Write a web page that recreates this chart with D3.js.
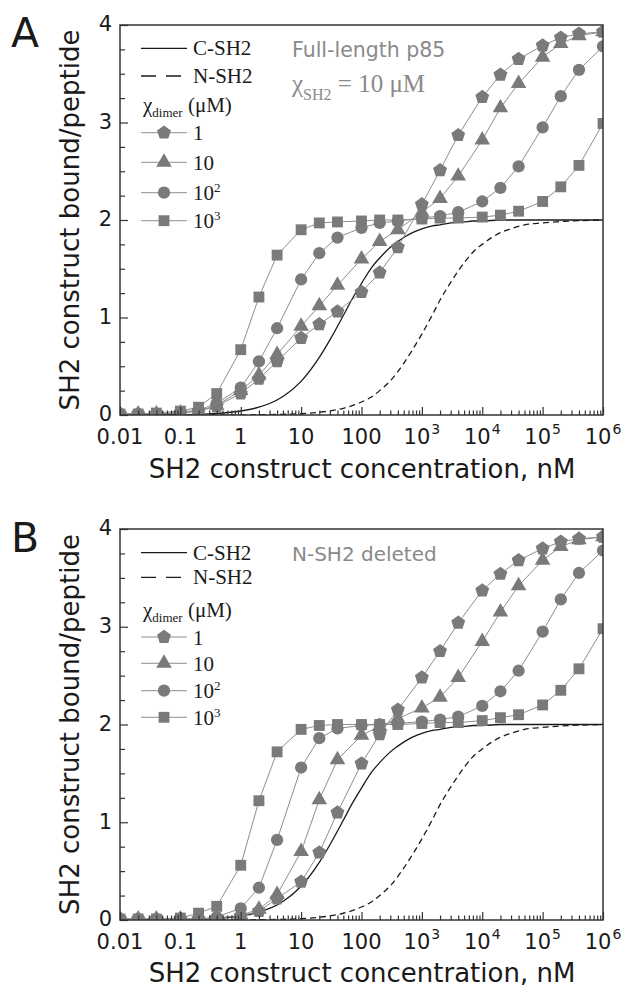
<!DOCTYPE html>
<html>
<head>
<meta charset="utf-8">
<script src="https://cdn.jsdelivr.net/npm/d3@7"></script>
<style>
body{margin:0;background:#fff;}
svg{display:block;}
</style>
</head>
<body>
<div id="chart"></div>
<script>
// concentrations (nM) of the simulated points
var conc = [0.01,0.02,0.04,0.1,0.2,0.4,1,2,4,10,20,40,100,200,400,1e3,2e3,4e3,1e4,2e4,4e4,1e5,2e5,4e5,1e6];

// panel A : full-length p85
var fullPent = [0.01,0.01,0.01,0.02,0.04,0.09,0.22,0.37,0.55,0.79,0.93,1.06,1.26,1.46,1.72,2.16,2.51,2.87,3.26,3.49,3.65,3.79,3.87,3.91,3.93];
var fullTri  = [0.01,0.01,0.01,0.02,0.04,0.10,0.25,0.41,0.62,0.91,1.12,1.33,1.60,1.78,1.90,2.08,2.22,2.45,2.82,3.15,3.40,3.67,3.81,3.89,3.93];
var fullCirc = [0.01,0.01,0.01,0.03,0.05,0.12,0.28,0.55,0.89,1.39,1.66,1.82,1.92,1.97,1.99,2.02,2.04,2.08,2.19,2.33,2.55,2.95,3.27,3.54,3.78];
var fullSq   = [0.01,0.01,0.02,0.04,0.08,0.22,0.67,1.21,1.64,1.90,1.97,1.98,1.99,2.00,2.00,2.01,2.02,2.02,2.03,2.05,2.09,2.19,2.34,2.56,2.99];

// panel B : N-SH2 deleted
var delPent = [0.01,0.01,0.01,0.01,0.01,0.02,0.04,0.09,0.22,0.39,0.69,1.10,1.60,1.90,2.15,2.48,2.75,3.04,3.37,3.54,3.68,3.80,3.87,3.90,3.92];
var delTri  = [0.01,0.01,0.01,0.01,0.01,0.02,0.05,0.11,0.26,0.70,1.23,1.64,1.89,1.98,2.06,2.17,2.28,2.48,2.85,3.15,3.42,3.68,3.82,3.89,3.92];
var delCirc = [0.01,0.01,0.01,0.01,0.01,0.03,0.12,0.33,0.82,1.56,1.86,1.96,1.99,2.00,2.01,2.03,2.05,2.08,2.19,2.34,2.55,2.95,3.28,3.55,3.78];
var delSq   = [0.01,0.01,0.01,0.02,0.07,0.14,0.56,1.22,1.72,1.95,1.99,2.00,2.00,2.00,2.00,2.01,2.02,2.02,2.04,2.07,2.10,2.20,2.35,2.57,2.98];

// single-domain binding curves (same in both panels)
var curveConc = [0.01,0.1,0.3,1,2,3,5,10,20,30,50,70,100,150,200,300,500,700,1e3,1500,2e3,3e3,5e3,7e3,1e4,2e4,3e4,5e4,1e5,1e6];
var cSH2 = [0.0,0.004,0.012,0.041,0.08,0.118,0.19,0.345,0.59,0.77,1.02,1.19,1.35,1.52,1.61,1.72,1.82,1.87,1.91,1.94,1.95,1.97,1.98,1.99,1.99,2.0,2.0,2.0,2.0,2.0];
var nSH2 = [0.0,0.0001,0.0004,0.0014,0.003,0.004,0.007,0.014,0.028,0.042,0.069,0.095,0.133,0.19,0.25,0.35,0.53,0.67,0.83,1.03,1.18,1.36,1.56,1.67,1.75,1.87,1.91,1.95,1.97,2.0];

var legendBase = ['1','10','10','10'];
var legendSup  = ['','','2','3'];
var xTickVals = [0.01,0.1,1,10,100,1e3,1e4,1e5,1e6];
var xTickBase = ['0.01','0.1','1','10','100','10','10','10','10'];
var xTickSup  = ['','','','','','3','4','5','6'];
var yTickVals = [0,1,2,3,4];

var W = 623, H = 989;
var left = 120, right = 603;
var markGray = '#7a7a7a', lineGray = '#8e8e8e', noteGray = '#8a8a8a', ink = '#1a1a1a';
var sans = 'DejaVu Sans', serif = 'Liberation Serif';

var svg = d3.select('#chart').append('svg').attr('width',W).attr('height',H);

function pentagon(r){
	var p = d3.path();
	for(var k=0;k<5;k++){
		var a = -Math.PI/2 + k*2*Math.PI/5;
		if(k==0) p.moveTo(r*Math.cos(a), r*Math.sin(a));
		else p.lineTo(r*Math.cos(a), r*Math.sin(a));
	}
	p.closePath();
	return p.toString();
}
var shapes = {
	pent: pentagon(7.3),
	tri: d3.symbol(d3.symbolTriangle, 105)(),
	circ: d3.symbol(d3.symbolCircle, 118)(),
	sq: d3.symbol(d3.symbolSquare, 118)()
};
var legendShapes = ['pent','tri','circ','sq'];

var xMinor = [];
for(var e=-2;e<6;e++){
	for(var m=2;m<10;m++) xMinor.push(m*Math.pow(10,e));
}
var yMinor = d3.range(0,4.01,0.25).filter(function(v){ return v%1 != 0; });

function drawPanel(o){
	var top = o.top, bottom = o.bottom;
	var x = d3.scaleLog().domain([0.01,1e6]).range([left,right]);
	var y = d3.scaleLinear().domain([0,4]).range([bottom,top]);
	var g = svg.append('g');

	svg.append('clipPath').attr('id','clip'+o.letter)
		.append('rect').attr('x',left).attr('y',top).attr('width',right-left).attr('height',bottom-top);
	var plot = g.append('g').attr('clip-path','url(#clip'+o.letter+')');

	var line = d3.line().x(function(d){return x(d[0]);}).y(function(d){return y(d[1]);});
	var smooth = d3.line().x(function(d){return x(d[0]);}).y(function(d){return y(d[1]);}).curve(d3.curveMonotoneX);

	plot.append('path').datum(d3.zip(curveConc,nSH2)).attr('d',smooth)
		.attr('fill','none').attr('stroke',ink).attr('stroke-width',1.3).attr('stroke-dasharray','6,4');
	plot.append('path').datum(d3.zip(curveConc,cSH2)).attr('d',smooth)
		.attr('fill','none').attr('stroke',ink).attr('stroke-width',1.3);

	// draw squares first so pentagons end on top
	o.series.slice().reverse().forEach(function(s){
		var pts = d3.zip(conc, s.vals);
		plot.append('path').datum(pts).attr('d',line)
			.attr('fill','none').attr('stroke',lineGray).attr('stroke-width',1);
		plot.selectAll(null).data(pts).enter().append('path')
			.attr('d',shapes[s.shape])
			.attr('transform',function(d){ return 'translate('+x(d[0])+','+y(d[1])+')'; })
			.attr('fill',markGray);
	});

	// ticks (inside)
	var xa = g.append('g').attr('transform','translate(0,'+bottom+')');
	xa.call(d3.axisBottom(x).tickValues(xTickVals).tickSize(-8).tickSizeOuter(0).tickFormat(''));
	var xm = g.append('g').attr('transform','translate(0,'+bottom+')');
	xm.call(d3.axisBottom(x).tickValues(xMinor).tickSize(-4.5).tickSizeOuter(0).tickFormat(''));
	var ya = g.append('g').attr('transform','translate('+left+',0)');
	ya.call(d3.axisLeft(y).tickValues(yTickVals).tickSize(-8).tickSizeOuter(0).tickPadding(8).tickFormat(d3.format('d')));
	var ym = g.append('g').attr('transform','translate('+left+',0)');
	ym.call(d3.axisLeft(y).tickValues(yMinor).tickSize(-5).tickSizeOuter(0).tickFormat(''));
	[xa,xm,ya,ym].forEach(function(a){
		a.select('.domain').remove();
		a.selectAll('.tick line').attr('stroke','#333').attr('stroke-width',1.2);
	});
	ya.selectAll('.tick text').attr('font-family',sans).attr('font-size',21).attr('fill',ink)
		.attr('dy','0.28em');

	g.append('rect').attr('x',left).attr('y',top).attr('width',right-left).attr('height',bottom-top)
		.attr('fill','none').attr('stroke','#333').attr('stroke-width',1.5);

	// x tick labels with superscripts
	xTickVals.forEach(function(v,i){
		var t = g.append('text').attr('x',x(v)).attr('y',bottom+29)
			.attr('text-anchor','middle').attr('font-family',sans).attr('font-size',21).attr('fill',ink);
		t.append('tspan').text(xTickBase[i]);
		if(xTickSup[i]) t.append('tspan').attr('dy',-10).attr('dx',1).attr('font-size',14).text(xTickSup[i]);
	});

	// axis titles
	g.append('text').attr('x',362).attr('y',o.xTitleY).attr('text-anchor','middle')
		.attr('font-family',sans).attr('font-size',26).attr('fill',ink)
		.text('SH2 construct concentration, nM');
	g.append('text').attr('transform','translate(79,'+((top+bottom)/2)+') rotate(-90)')
		.attr('text-anchor','middle').attr('font-family',sans).attr('font-size',26).attr('fill',ink)
		.text('SH2 construct bound/peptide');

	// panel letter
	g.append('text').attr('x',11).attr('y',o.letterY).attr('font-family',sans).attr('font-size',41)
		.attr('fill',ink).text(o.letter);

	// legend
	var lg = g.append('g');
	var lx0 = 141, lx1 = 187, tx = 193;
	lg.append('line').attr('x1',lx0).attr('x2',lx1).attr('y1',top+o.leg.c).attr('y2',top+o.leg.c)
		.attr('stroke',ink).attr('stroke-width',1.3);
	lg.append('text').attr('x',tx).attr('y',top+o.leg.c+7).attr('font-family',serif).attr('font-size',21)
		.attr('fill',ink).text('C-SH2');
	lg.append('line').attr('x1',lx0).attr('x2',lx1).attr('y1',top+o.leg.n).attr('y2',top+o.leg.n)
		.attr('stroke',ink).attr('stroke-width',1.3).attr('stroke-dasharray','15,10');
	lg.append('text').attr('x',tx).attr('y',top+o.leg.n+7).attr('font-family',serif).attr('font-size',21)
		.attr('fill',ink).text('N-SH2');
	var chi = lg.append('text').attr('x',143).attr('y',top+o.leg.chi).attr('font-family',serif)
		.attr('font-size',21).attr('fill',ink);
	chi.append('tspan').text('χ');
	chi.append('tspan').attr('font-size',13).attr('dy',5).text('dimer');
	chi.append('tspan').attr('dy',-5).text(' (μM)');
	o.leg.rows.forEach(function(ry,i){
		var yy = top+ry;
		lg.append('line').attr('x1',lx0).attr('x2',lx1).attr('y1',yy).attr('y2',yy)
			.attr('stroke',lineGray).attr('stroke-width',1);
		lg.append('path').attr('d',shapes[legendShapes[i]]).attr('transform','translate(164,'+yy+')')
			.attr('fill',markGray);
		var t = lg.append('text').attr('x',tx).attr('y',yy+7.5).attr('font-family',serif)
			.attr('font-size',21).attr('fill',ink);
		t.append('tspan').text(legendBase[i]);
		if(legendSup[i]) t.append('tspan').attr('font-size',13).attr('dy',-8).text(legendSup[i]);
	});

	o.note(g, top);
}

drawPanel({
	letter:'A', top:25, bottom:415, letterY:47, xTitleY:478,
	series:[{shape:'pent',vals:fullPent},{shape:'tri',vals:fullTri},{shape:'circ',vals:fullCirc},{shape:'sq',vals:fullSq}],
	leg:{c:23.3, n:51, chi:86.7, rows:[107.7,137.3,167.7,195.7]},
	note:function(g, top){
		g.append('text').attr('x',292).attr('y',top+32).attr('font-family',sans).attr('font-size',20.5)
			.attr('fill',noteGray).text('Full-length p85');
		var t = g.append('text').attr('x',292).attr('y',top+67).attr('font-family',serif)
			.attr('font-size',25).attr('fill',noteGray);
		t.append('tspan').text('χ');
		t.append('tspan').attr('font-size',16).attr('dy',8).text('SH2');
		t.append('tspan').attr('dy',-8).text(' = 10 μM');
	}
});

drawPanel({
	letter:'B', top:529, bottom:920, letterY:552, xTitleY:982,
	series:[{shape:'pent',vals:delPent},{shape:'tri',vals:delTri},{shape:'circ',vals:delCirc},{shape:'sq',vals:delSq}],
	leg:{c:23.7, n:48.3, chi:87.7, rows:[108,134.3,161.7,188.3]},
	note:function(g, top){
		g.append('text').attr('x',292).attr('y',top+32).attr('font-family',sans).attr('font-size',20)
			.attr('fill',noteGray).text('N-SH2 deleted');
	}
});
</script>
</body>
</html>
